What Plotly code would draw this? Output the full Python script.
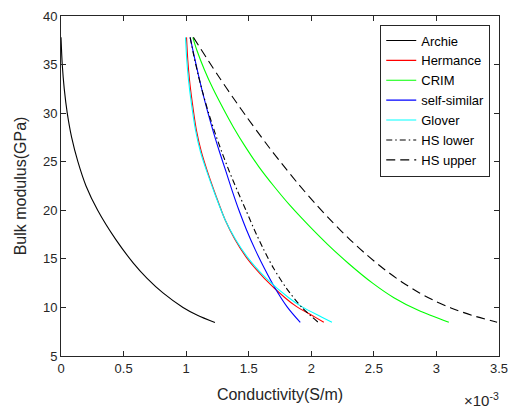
import plotly.graph_objects as go

# Conductivity values in units of 1e-3 S/m, bulk modulus in GPa
archie_sigma = [0.0, 0.01, 0.026, 0.05, 0.085, 0.135, 0.2, 0.293, 0.437, 0.578,
                0.688, 0.815, 0.975, 1.09, 1.23]
archie_k = [37.8, 35.0, 32.5, 30.0, 27.5, 25.0, 22.5, 20.0, 17.0, 14.57,
            13.0, 11.5, 10.0, 9.2, 8.45]

hermance_sigma = [1.003, 1.013, 1.027, 1.050, 1.082, 1.122, 1.170, 1.238, 1.312, 1.390,
                  1.490, 1.625, 1.790, 1.880, 2.030, 2.100]
hermance_k = [37.8, 35.5, 33.4, 31.0, 28.25, 26.0, 24.0, 21.5, 19.0, 17.0,
              15.0, 13.0, 11.0, 10.11, 9.0, 8.47]

crim_sigma = [1.053, 1.085, 1.145, 1.215, 1.295, 1.38, 1.475, 1.58, 1.70, 1.83,
              1.975, 2.13, 2.30, 2.49, 2.66, 2.855, 3.099]
crim_k = [37.8, 36.5, 34.5, 32.5, 30.5, 28.5, 26.5, 24.5, 22.5, 20.5,
          18.5, 16.5, 14.5, 12.5, 11.0, 9.7, 8.47]

selfsim_sigma = [1.032, 1.062, 1.097, 1.134, 1.175, 1.219, 1.267, 1.318, 1.368, 1.422,
                 1.482, 1.55, 1.626, 1.71, 1.81, 1.912]
selfsim_k = [37.8, 36.0, 34.0, 32.0, 30.0, 28.0, 26.0, 24.0, 22.0, 20.0,
             18.0, 16.0, 14.0, 12.0, 10.0, 8.45]

glover_sigma = [0.995, 1.005, 1.019, 1.042, 1.075, 1.115, 1.165, 1.235, 1.312, 1.395,
                1.50, 1.64, 1.82, 1.92, 2.085, 2.165]
glover_k = [37.8, 35.5, 33.4, 31.0, 28.25, 26.0, 24.0, 21.5, 19.0, 17.0,
            15.0, 13.0, 11.0, 10.11, 9.0, 8.47]

hslow_sigma = [1.032, 1.06, 1.095, 1.135, 1.18, 1.23, 1.285, 1.345, 1.41, 1.478,
               1.545, 1.618, 1.70, 1.80, 1.925, 2.055]
hslow_k = [37.8, 36.0, 34.0, 32.0, 30.0, 28.0, 26.0, 24.0, 22.0, 20.0,
           18.0, 16.0, 14.0, 12.0, 10.0, 8.47]

hsup_sigma = [1.058, 1.248, 1.407, 1.483, 1.632, 1.762, 1.897, 2.029, 2.168, 2.311,
              2.444, 2.588, 2.726, 2.865, 2.999, 3.116, 3.281, 3.485]
hsup_k = [37.8, 34.0, 31.0, 29.62, 27.0, 24.84, 22.7, 20.73, 18.8, 16.96,
          15.4, 13.88, 12.6, 11.49, 10.6, 9.95, 9.2, 8.47]

x_ticks = [0, 0.5, 1, 1.5, 2, 2.5, 3, 3.5]
x_tick_labels = ["0", "0.5", "1", "1.5", "2", "2.5", "3", "3.5"]
y_ticks = [5, 10, 15, 20, 25, 30, 35, 40]

SCALE = 1e-3

series = [
    ("Archie", archie_sigma, archie_k, "#000000", "solid"),
    ("Hermance", hermance_sigma, hermance_k, "#ff0000", "solid"),
    ("CRIM", crim_sigma, crim_k, "#00ff00", "solid"),
    ("self-similar", selfsim_sigma, selfsim_k, "#0000ff", "solid"),
    ("Glover", glover_sigma, glover_k, "#00ffff", "solid"),
    ("HS lower", hslow_sigma, hslow_k, "#000000", "6px,3px,1.5px,3px"),
    ("HS upper", hsup_sigma, hsup_k, "#000000", "9px,5px"),
]

fig = go.Figure()
for name, xs, ks, color, dash in series:
    fig.add_trace(go.Scatter(
        x=[v * SCALE for v in xs], y=ks, mode="lines", name=name,
        line=dict(color=color, width=1.1, dash=dash, shape="spline", smoothing=0.8),
    ))

FONT = "Liberation Sans, Arial"
axis_common = dict(
    showline=True, linecolor="#262626", linewidth=1, mirror="ticks",
    ticks="inside", ticklen=5, tickcolor="#262626", showgrid=False,
    zeroline=False, automargin=False,
    tickfont=dict(family=FONT, size=13, color="#262626"),
)

fig.update_layout(
    width=513, height=411,
    margin=dict(l=61, r=14, t=16, b=55),
    paper_bgcolor="white", plot_bgcolor="white",
    font=dict(family=FONT, color="#262626"),
    xaxis=dict(range=[0, 3.5 * SCALE], tickvals=[t * SCALE for t in x_ticks],
               ticktext=x_tick_labels,
               title=dict(text="Conductivity(S/m)", font=dict(size=16, color="#262626"), standoff=14),
               **axis_common),
    yaxis=dict(range=[5, 40], tickvals=y_ticks,
               title=dict(text="Bulk modulus(GPa)", font=dict(size=16, color="#262626"), standoff=12),
               **axis_common),
    legend=dict(x=0.98, y=0.975, xanchor="right", yanchor="top",
                bordercolor="#262626", borderwidth=1, bgcolor="white",
                font=dict(family=FONT, size=13, color="#000000"),
                tracegroupgap=0, itemwidth=30),
    showlegend=True,
)

fig.add_annotation(
    text="×10<sup>-3</sup>", xref="paper", yref="paper", x=1.005, y=-0.095,
    xanchor="right", yanchor="top", showarrow=False,
    font=dict(family=FONT, size=15, color="#262626"),
)

fig.write_html("out.html")
